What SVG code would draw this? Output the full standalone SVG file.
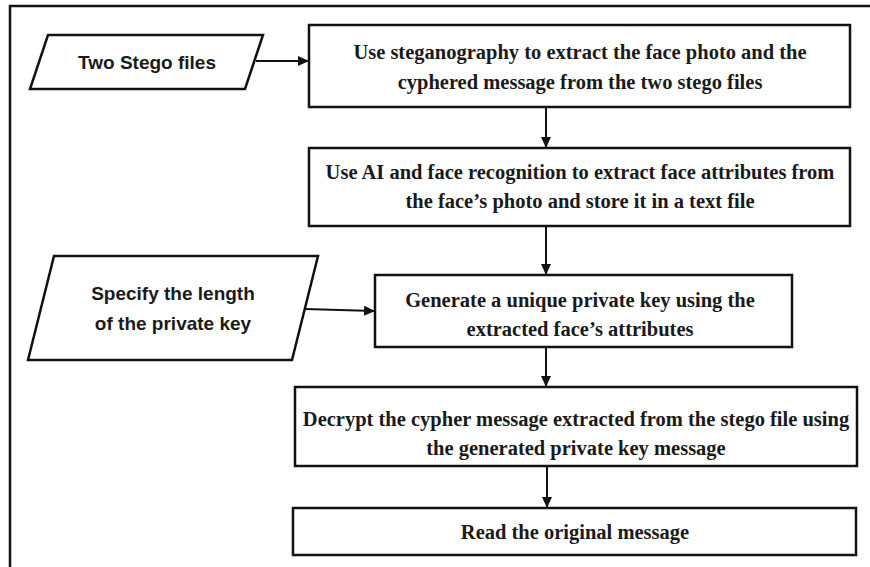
<svg xmlns="http://www.w3.org/2000/svg" width="870" height="567" viewBox="0 0 870 567">
<style>
.box{fill:#fff;stroke:#111;stroke-width:2.5}
.t{font-family:"Liberation Serif","Times New Roman",serif;font-weight:bold;font-size:20.5px;fill:#1a1a1a;text-anchor:middle}
.s{font-family:"Liberation Sans",Arial,sans-serif;font-weight:bold;font-size:19px;fill:#1a1a1a;text-anchor:middle}
.c{stroke:#111;stroke-width:2;fill:none}
</style>
<defs>
<marker id="ah" markerWidth="11" markerHeight="10" refX="10" refY="5" orient="auto" markerUnits="userSpaceOnUse">
<path d="M0,0 L11,5 L0,10 Z" fill="#111"/>
</marker>
</defs>
<rect width="870" height="567" fill="#fff"/>
<path d="M10,567 V6 H870" fill="none" stroke="#111" stroke-width="2.5"/>
<g id="connectors">
<line class="c" x1="256" y1="61" x2="308" y2="61" marker-end="url(#ah)"/>
<line class="c" x1="546" y1="107" x2="546" y2="147" marker-end="url(#ah)"/>
<line class="c" x1="546" y1="226" x2="546" y2="274" marker-end="url(#ah)"/>
<line class="c" x1="305" y1="309" x2="374" y2="311" marker-end="url(#ah)"/>
<line class="c" x1="546" y1="347" x2="546" y2="386" marker-end="url(#ah)"/>
<line class="c" x1="547" y1="466" x2="547" y2="507" marker-end="url(#ah)"/>
</g>
<g id="input1">
<polygon class="box" points="48,35 263,35 245,89 30,89"/>
<text class="s" x="147" y="69">Two Stego files</text>
</g>
<g id="step1">
<rect class="box" x="309" y="25" width="541" height="82"/>
<text class="t" x="580" y="59">Use steganography to extract the face photo and the</text>
<text class="t" x="580" y="89">cyphered message from the two stego files</text>
</g>
<g id="step2">
<rect class="box" x="309" y="148" width="541" height="78"/>
<text class="t" x="580" y="179">Use AI and face recognition to extract face attributes from</text>
<text class="t" x="580" y="208">the face’s photo and store it in a text file</text>
</g>
<g id="input2">
<polygon class="box" points="54,256 318,256 292,360 28,360"/>
<text class="s" x="173" y="300">Specify the length</text>
<text class="s" x="173" y="330">of the private key</text>
</g>
<g id="step3">
<rect class="box" x="375" y="275" width="417" height="72"/>
<text class="t" x="580" y="307">Generate a unique private key using the</text>
<text class="t" x="580" y="336">extracted face’s attributes</text>
</g>
<g id="step4">
<rect class="box" x="295" y="387" width="562" height="79"/>
<text class="t" x="576" y="426">Decrypt the cypher message extracted from the stego file using</text>
<text class="t" x="576" y="455">the generated private key message</text>
</g>
<g id="step5">
<rect class="box" x="293" y="508" width="563" height="47"/>
<text class="t" x="575" y="539">Read the original message</text>
</g>
</svg>
